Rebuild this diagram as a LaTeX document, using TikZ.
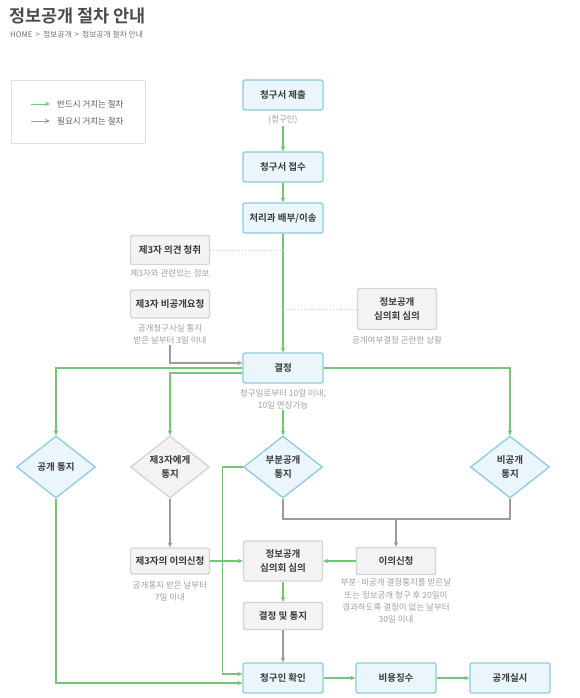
\documentclass[tikz,border=0pt]{standalone}
\usepackage{fontspec}
\setmainfont{Noto Sans CJK KR}[BoldFont={Noto Sans CJK KR Bold}]
\usetikzlibrary{shapes.geometric,arrows.meta}
\definecolor{grn}{HTML}{74C576}
\definecolor{gline}{HTML}{9C9C9C}
\definecolor{bfill}{HTML}{EAF6FB}
\definecolor{bdraw}{HTML}{8ECBDD}
\definecolor{gfill}{HTML}{F3F3F3}
\definecolor{gdraw}{HTML}{D4D4D4}
\definecolor{txt}{HTML}{3A3A3A}
\definecolor{notec}{HTML}{A0A0A0}
\definecolor{dotc}{HTML}{C4C4C4}
\tikzset{
  boxfont/.style={font=\fontsize{9.5}{13.5}\selectfont\bfseries, text=txt, align=center},
  bbox/.style={draw=bdraw, fill=bfill, line width=1.3pt, rounded corners=2pt, minimum width=80pt, minimum height=30pt, inner sep=0pt, boxfont},
  gbox/.style={draw=gdraw, fill=gfill, line width=1.3pt, rounded corners=2pt, minimum width=79pt, minimum height=28pt, inner sep=0pt, boxfont},
  bdia/.style={diamond, aspect=1.27, draw=bdraw, fill=bfill, line width=1.3pt, minimum width=79pt, minimum height=62pt, inner sep=0pt, boxfont},
  gdia/.style={bdia, draw=gdraw, fill=gfill},
  notet/.style={font=\fontsize{8.5}{12.3}\selectfont, text=notec, align=center, inner sep=1pt},
  garrow/.style={draw=grn, line width=1.1pt, -{Stealth[length=5pt,width=4.5pt]}},
  grarrow/.style={draw=gline, line width=1.1pt, -{Stealth[length=5pt,width=4.5pt]}},
  grline/.style={draw=gline, line width=1.1pt},
  dotl/.style={draw=dotc, dotted, line width=0.9pt},
}
\begin{document}
\begin{tikzpicture}[x=1pt,y=-1pt]
\useasboundingbox[fill=white] (0,0) rectangle (580,698);
% header
\node[anchor=west, font=\fontsize{17.5}{19}\selectfont\bfseries, text=black!70, inner sep=0pt] (title) at (9,16) {정보공개 절차 안내};
\node[anchor=west, font=\fontsize{7.8}{9}\selectfont, text=black!55, inner sep=0pt] (crumb) at (10,35) {HOME \,>\, 정보공개 \,>\, 정보공개 절차 안내};
% legend
\node[draw=black!12, line width=0.8pt, minimum width=134pt, minimum height=63pt, inner sep=0pt] (legend) at (78,111.5) {};
\coordinate (la1) at (31,104); \coordinate (la2) at (50,104);
\coordinate (lb1) at (31,121); \coordinate (lb2) at (50,121);
\draw[garrow, line width=0.9pt] (la1) -- (la2);
\draw[grarrow, line width=0.9pt] (lb1) -- (lb2);
\node[anchor=west, font=\fontsize{8.5}{10}\selectfont, text=black!65, inner sep=0pt] (lt1) at (57,104) {반드시 거치는 절차};
\node[anchor=west, font=\fontsize{8.5}{10}\selectfont, text=black!65, inner sep=0pt] (lt2) at (57,121) {필요시 거치는 절차};
% main column
\node[bbox] (n1) at (283,95) {청구서 제출};
\node[notet] (c1) at (283,120) {(청구인)};
\node[bbox] (n2) at (283,167) {청구서 접수};
\node[bbox] (n3) at (283,218) {처리과 배부/이송};
\node[bbox] (n4) at (283,368) {결정};
\node[notet] (t4) at (283,399) {청구일로부터 10일 이내,\\10일 연장가능};
% third party side
\node[gbox, minimum height=29pt] (p1) at (170,250) {제3자 의견 청취};
\node[notet] (tp1) at (170,273) {제3자와 관련있는 정보};
\node[gbox] (p2) at (170,304) {제3자 비공개요청};
\node[notet] (tp2) at (170,334) {공개청구사실 통지\\받은 날부터 3일 이내};
\node[gbox, minimum height=41pt] (q1) at (397,309) {정보공개\\심의회 심의};
\node[notet] (tq1) at (397,340) {공개여부결정 곤란한 상황};
% diamonds
\node[bdia] (d1) at (56,467) {공개 통지};
\node[gdia] (d2) at (170,467) {제3자에게\\통지};
\node[bdia] (d3) at (283,467) {부분공개\\통지};
\node[bdia] (d4) at (510,467) {비공개\\통지};
% lower
\node[gbox, minimum height=26pt] (r1) at (170,561) {제3자의 이의신청};
\node[notet] (tr1) at (170,591) {공개통지 받은 날부터\\7일 이내};
\node[gbox, minimum height=40pt] (r2) at (283,561) {정보공개\\심의회 심의};
\node[gbox, minimum height=27pt] (r3) at (396,561) {이의신청};
\node[notet] (tr3) at (396,601) {부분·비공개 결정통지를 받은날\\또는 정보공개 청구 후 20일이\\경과하도록 결정이 없는 날부터\\30일 이내};
\node[gbox, minimum height=27pt] (r4) at (283,616) {결정 및 통지};
\node[bbox] (s1) at (283,678) {청구인 확인};
\node[bbox] (s2) at (396,678) {비용징수};
\node[bbox] (s3) at (510,678) {공개실시};
% connectors
\draw[garrow] (c1.south) -- (n2.north);
\draw[garrow] (n2.south) -- (n3.north);
\draw[garrow] (n3.south) -- (n4.north);
\draw[dotl] (p1.east) -- (p1.east -| n3.south);
\draw[dotl] (q1.west) -- (q1.west -| n3.south);
\draw[grarrow] (tp2.south) |- ([yshift=5pt]n4.west);
\draw[garrow] (n4.west) -| (d1.north);
\draw[garrow] ([yshift=-5pt]n4.west) -| (d2.north);
\draw[garrow] (n4.east) -| (d4.north);
\draw[garrow] (t4.south) -- (d3.north);
\draw[garrow] (d3.west) -- ++(-20,0) |- ([yshift=4pt]s1.west);
\draw[garrow] (d1.south) |- ([yshift=-5pt]s1.west);
\coordinate (m) at (396,519);
\draw[grline] (d3.south) -- (d3.south |- m) -- (d4.south |- m) -- (d4.south);
\draw[grarrow] (m) -- (r3.north);
\draw[grarrow] (d2.south) -- (r1.north);
\draw[garrow] (r1.east) -- (r2.west);
\draw[garrow] (r3.west) -- (r2.east);
\draw[garrow] (r2.south) -- (r4.north);
\draw[grarrow] (r4.south) -- (s1.north);
\draw[garrow] (s1.east) -- (s2.west);
\draw[garrow] (s2.east) -- (s3.west);
\end{tikzpicture}
\end{document}
